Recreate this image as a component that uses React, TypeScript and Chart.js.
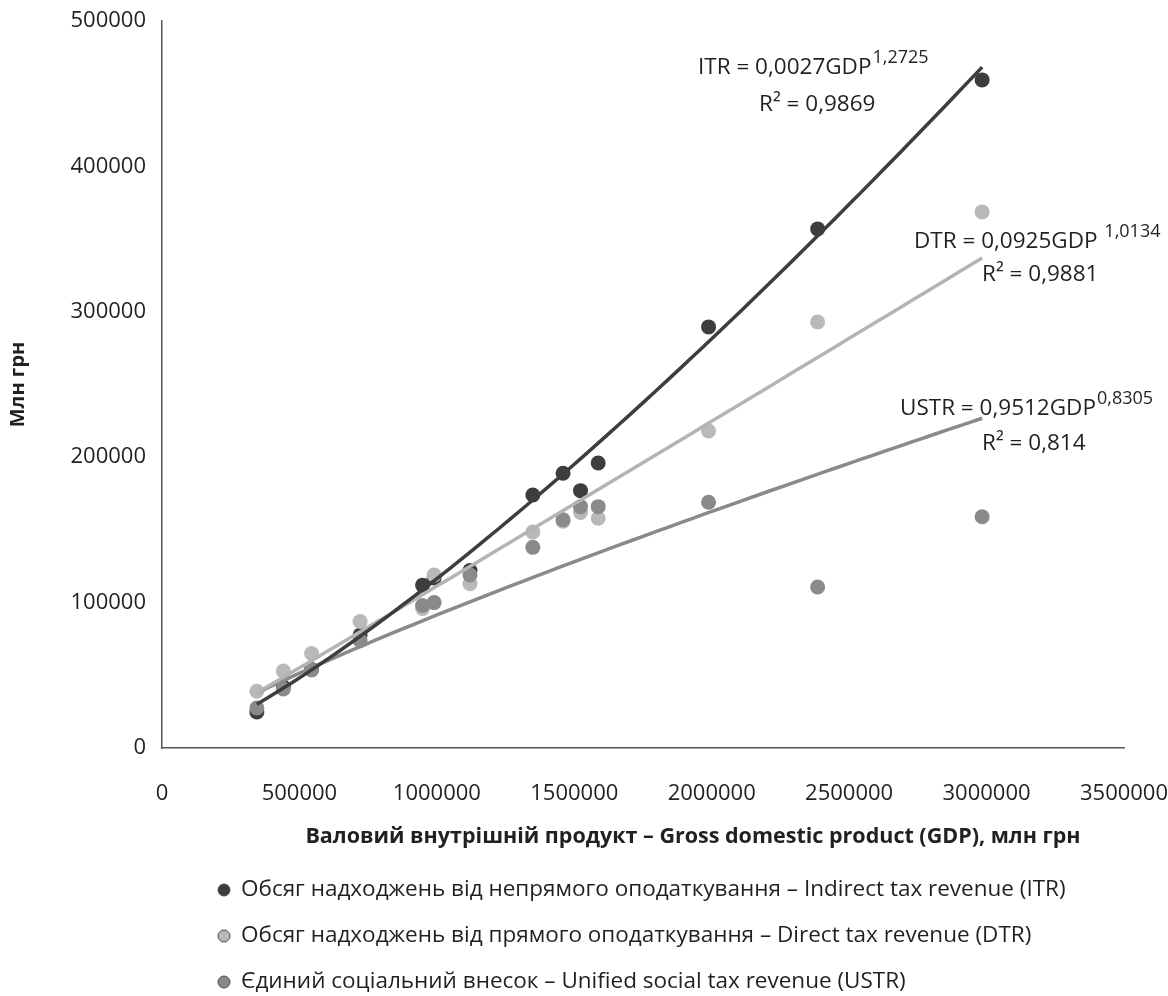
import React, { useEffect, useRef } from "react";
import { Chart, registerables } from "chart.js";
Chart.register(...registerables);

// GDP, mln UAH (x values)
const gdp = [345113, 441452, 544153, 720731, 948056, 990000, 1120585, 1349178, 1459096, 1522657, 1586915, 1988544, 2385367, 2983882];
// Indirect tax revenue (ITR)
const itr = [24800, 42000, 54000, 77700, 112000, 117000, 122000, 174000, 189000, 177000, 196000, 289600, 357000, 459500];
// Direct tax revenue (DTR)
const dtr = [39000, 53000, 65000, 87000, 96000, 119000, 113000, 148600, 156000, 162000, 158000, 218000, 293000, 368700];
// Unified social tax revenue (USTR)
const ustr = [27500, 40600, 53600, 74000, 98000, 100000, 119000, 138000, 157000, 166000, 166000, 169000, 110700, 159000];

const seriesNames = [
  "Обсяг надходжень від непрямого оподаткування – Indirect tax revenue (ITR)",
  "Обсяг надходжень від прямого оподаткування – Direct tax revenue (DTR)",
  "Єдиний соціальний внесок – Unified social tax revenue (USTR)",
];
const seriesColors = ["#3d3d3d", "#b9b9b9", "#8a8a8a"];
const lineColors = ["#3d3d3d", "#b4b4b4", "#8a8a8a"];

// Power trend lines y = a * x^b (from the chart's equations)
const trendA = [0.0027, 0.0925, 0.9512];
const trendB = [1.2725, 1.0134, 0.8305];
const eqMain = ["ITR = 0,0027GDP", "DTR = 0,0925GDP ", "USTR = 0,9512GDP"];
const eqSup = ["1,2725", "1,0134", "0,8305"];
const eqR2 = ["R² = 0,9869", "R² = 0,9881", "R² = 0,814"];

const xMin = 0, xMax = 3500000, xStep = 500000;
const yMin = 0, yMax = 500000, yStep = 100000;
const xTitle = "Валовий внутрішній продукт – Gross domestic product (GDP), млн грн";
const yTitle = "Млн грн";

const FONT = '"Open Sans", "Noto Sans", sans-serif';
const TEXT = "#231f20";

function trendPoints(i: number) {
  const lo = Math.min(...gdp), hi = Math.max(...gdp);
  const pts = [] as { x: number; y: number }[];
  const n = 60;
  for (let k = 0; k <= n; k++) {
    const x = lo + ((hi - lo) * k) / n;
    pts.push({ x, y: trendA[i] * Math.pow(x, trendB[i]) });
  }
  return pts;
}

const eqPos = [
  { x: 698, y: 74, rx: 759, ry: 111 },
  { x: 914, y: 248, rx: 982, ry: 281 },
  { x: 900, y: 415, rx: 982, ry: 450 },
];

const overlayPlugin = {
  id: "overlay",
  afterDraw(chart: any) {
    const ctx = chart.ctx as CanvasRenderingContext2D;
    ctx.save();
    ctx.fillStyle = TEXT;
    ctx.textBaseline = "alphabetic";
    ctx.textAlign = "left";
    for (let i = 0; i < 3; i++) {
      const p = eqPos[i];
      ctx.font = `22.5px ${FONT}`;
      ctx.fillText(eqMain[i], p.x, p.y);
      const w = ctx.measureText(eqMain[i]).width;
      ctx.font = `18px ${FONT}`;
      ctx.fillText(eqSup[i], p.x + w + 1, p.y - 11);
      ctx.font = `22.5px ${FONT}`;
      ctx.fillText(eqR2[i], p.rx, p.ry);
    }
    // x axis title
    ctx.font = `bold 21.5px ${FONT}`;
    ctx.textAlign = "center";
    ctx.textBaseline = "middle";
    ctx.fillText(xTitle, 693, 837);
    // legend
    ctx.textAlign = "left";
    const lx = 224, ly = [890, 936, 982];
    for (let i = 0; i < 3; i++) {
      ctx.beginPath();
      ctx.arc(lx, ly[i], 6, 0, Math.PI * 2);
      ctx.fillStyle = seriesColors[i];
      ctx.fill();
      ctx.lineWidth = 1;
      ctx.strokeStyle = "#4a4a4a";
      ctx.stroke();
      ctx.fillStyle = TEXT;
      ctx.font = `22.5px ${FONT}`;
      ctx.textBaseline = "middle";
      ctx.fillText(seriesNames[i], lx + 17, ly[i]);
    }
    ctx.restore();
  },
};

export default function App() {
  const ref = useRef<HTMLCanvasElement | null>(null);
  useEffect(() => {
    if (!ref.current) return;
    const scatterSets = [itr, dtr, ustr].map((vals, i) => ({
      type: "scatter" as const,
      label: seriesNames[i],
      data: gdp.map((g, k) => ({ x: g, y: vals[k] })),
      backgroundColor: seriesColors[i],
      borderColor: seriesColors[i],
      pointRadius: 7.5,
      pointHoverRadius: 7.5,
      borderWidth: 0,
      order: 3 - i,
    }));
    const trendSets = [0, 1, 2].map((i) => ({
      type: "line" as const,
      label: "trend " + i,
      data: trendPoints(i),
      borderColor: lineColors[i],
      borderWidth: 3.5,
      pointRadius: 0,
      fill: false,
      tension: 0,
      order: 0,
    }));
    const chart = new Chart(ref.current, {
      type: "scatter",
      data: { datasets: [...trendSets, ...scatterSets] as any },
      options: {
        animation: false,
        responsive: false,
        layout: { padding: { left: 0, right: 44, top: 21, bottom: 168 } },
        plugins: { legend: { display: false }, tooltip: { enabled: false } },
        scales: {
          x: {
            type: "linear",
            min: xMin,
            max: xMax,
            ticks: { stepSize: xStep, padding: 33, color: TEXT, font: { family: FONT, size: 22 }, maxRotation: 0, callback: (v: any) => String(v) },
            grid: { display: false, drawTicks: false },
            border: { display: true, color: "#555", width: 1.5 },
            title: { display: false },
            afterFit: (s: any) => { s.height = 80; s.paddingLeft = 0; s.paddingRight = 0; },
          },
          y: {
            type: "linear",
            min: yMin,
            max: yMax,
            ticks: { stepSize: yStep, padding: 16, color: TEXT, font: { family: FONT, size: 22 }, callback: (v: any) => String(v) },
            grid: { display: false, drawTicks: false },
            border: { display: true, color: "#555", width: 1.5 },
            title: { display: true, text: yTitle, color: TEXT, font: { family: FONT, size: 20, weight: "bold" }, padding: { top: 6, bottom: 0 } },
            afterFit: (s: any) => { s.width = 162; s.paddingTop = 0; s.paddingBottom = 0; },
          },
        },
      },
      plugins: [overlayPlugin],
    });
    return () => chart.destroy();
  }, []);
  return (
    <div style={{ position: "fixed", left: 0, top: 0, width: 1168, height: 996, background: "#fff" }}>
      <canvas ref={ref} width={1168} height={996} style={{ width: 1168, height: 996 }} />
    </div>
  );
}
